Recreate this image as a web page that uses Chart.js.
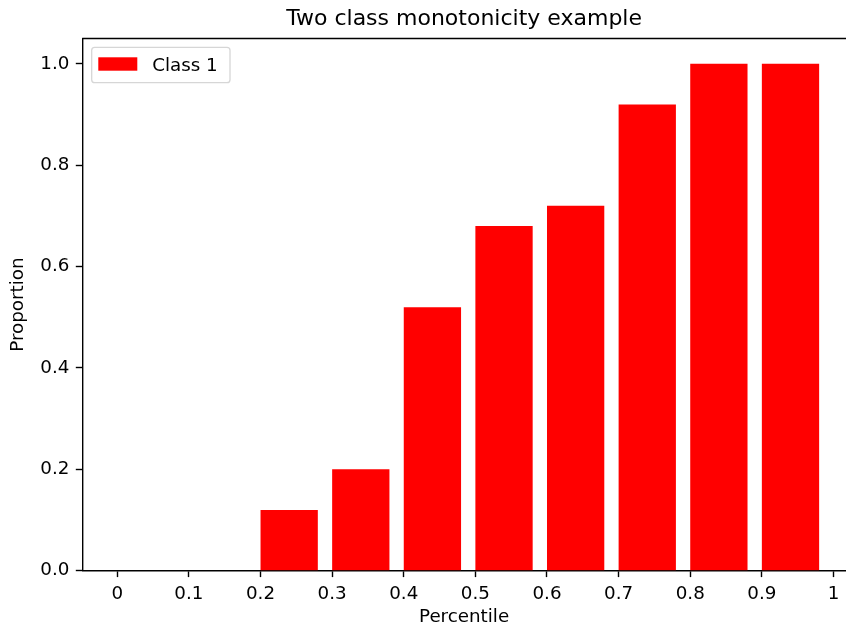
<!DOCTYPE html>
<html>
<head>
<meta charset="utf-8">
<title>Two class monotonicity example</title>
<script src="https://cdn.jsdelivr.net/npm/chart.js@4.4.1/dist/chart.umd.min.js"></script>
<style>
  html, body { margin: 0; padding: 0; background: #ffffff; }
  canvas { display: block; }
</style>
</head>
<body>
<canvas id="chart" width="846" height="630"></canvas>
<script>
// Left edge of each percentile bin and the share of Class 1 in it
const percentiles = [0, 0.1, 0.2, 0.3, 0.4, 0.5, 0.6, 0.7, 0.8, 0.9];
const class1 = [0, 0, 0.12, 0.2, 0.52, 0.68, 0.72, 0.92, 1.0, 1.0];

// Axis ticks
const xTicks = [0, 0.1, 0.2, 0.3, 0.4, 0.5, 0.6, 0.7, 0.8, 0.9, 1.0];
const xTickLabels = ['0', '0.1', '0.2', '0.3', '0.4', '0.5', '0.6', '0.7', '0.8', '0.9', '1'];
const yTicks = [0, 0.2, 0.4, 0.6, 0.8, 1.0];
const yTickLabels = ['0.0', '0.2', '0.4', '0.6', '0.8', '1.0'];

// Bars start at their bin edge and are 0.08 wide
const barWidth = 0.08;

Chart.defaults.font.family = "'DejaVu Sans', sans-serif";
Chart.defaults.font.size = 18.3;
Chart.defaults.color = '#000000';

const AXIS_W = 1.4;

// Top spine of the plotting frame (the frame runs on past the right edge)
const framePlugin = {
  id: 'frame',
  afterDraw(chart) {
    const { ctx, chartArea: a } = chart;
    ctx.save();
    ctx.strokeStyle = '#000000';
    ctx.lineWidth = AXIS_W;
    ctx.beginPath();
    ctx.moveTo(a.left, a.top);
    ctx.lineTo(chart.width, a.top);
    ctx.stroke();
    ctx.restore();
  }
};

// Legend box drawn in the upper-left corner of the plotting area
const innerLegend = {
  id: 'innerLegend',
  afterDraw(chart) {
    const { ctx, chartArea: a } = chart;
    const ds = chart.data.datasets[0];
    const x = a.left + 9.5, y = a.top + 8.8, w = 138.3, h = 35.4, r = 3;
    ctx.save();
    ctx.beginPath();
    ctx.moveTo(x + r, y);
    ctx.lineTo(x + w - r, y);
    ctx.arcTo(x + w, y, x + w, y + r, r);
    ctx.lineTo(x + w, y + h - r);
    ctx.arcTo(x + w, y + h, x + w - r, y + h, r);
    ctx.lineTo(x + r, y + h);
    ctx.arcTo(x, y + h, x, y + h - r, r);
    ctx.lineTo(x, y + r);
    ctx.arcTo(x, y, x + r, y, r);
    ctx.closePath();
    ctx.fillStyle = 'rgba(255,255,255,0.8)';
    ctx.fill();
    ctx.strokeStyle = '#d6d6d6';
    ctx.lineWidth = 1.3;
    ctx.stroke();
    ctx.fillStyle = ds.backgroundColor;
    ctx.fillRect(x + 6.6, y + 10, 39, 13.4);
    ctx.font = "18.3px 'DejaVu Sans', sans-serif";
    ctx.fillStyle = '#000000';
    ctx.textBaseline = 'alphabetic';
    ctx.textAlign = 'left';
    ctx.fillText(ds.label, x + 60.5, y + 23.4);
    ctx.restore();
  }
};

const borderOpts = { display: true, color: '#000000', width: AXIS_W };
const gridOpts = {
  display: true,
  offset: false,
  drawOnChartArea: false,
  drawTicks: true,
  tickLength: 6.4,
  tickWidth: AXIS_W,
  tickColor: '#000000'
};

new Chart(document.getElementById('chart'), {
  type: 'bar',
  data: {
    datasets: [{
      label: 'Class 1',
      data: percentiles.map((p, i) => ({ x: p + barWidth / 2, y: class1[i] })),
      backgroundColor: '#ff0000',
      borderWidth: 0,
      categoryPercentage: 1.0,
      barPercentage: 0.8
    }]
  },
  options: {
    responsive: false,
    devicePixelRatio: 1,
    animation: false,
    layout: { padding: { left: 0, right: 0, top: 0, bottom: 0 } },
    plugins: {
      legend: { display: false },
      tooltip: { enabled: false },
      title: {
        display: true,
        text: 'Two class monotonicity example',
        fullSize: false,
        color: '#000000',
        font: { size: 22, weight: 'normal' },
        padding: { top: 6, bottom: 6.1 }
      }
    },
    scales: {
      x: {
        type: 'linear',
        z: 1,
        offset: false,
        min: -0.049,
        max: 1.0175,
        border: borderOpts,
        grid: gridOpts,
        afterBuildTicks: s => { s.ticks = xTicks.map(v => ({ value: v })); },
        afterFit: s => { s.height = 59.3; },
        ticks: {
          padding: 6,
          maxRotation: 0,
          autoSkip: false,
          callback: (v, i) => xTickLabels[i]
        },
        title: {
          display: true,
          text: 'Percentile',
          color: '#000000',
          padding: { top: 0, bottom: 1.5 }
        }
      },
      y: {
        type: 'linear',
        z: 1,
        min: 0,
        max: 1.05,
        border: borderOpts,
        grid: gridOpts,
        afterBuildTicks: s => { s.ticks = yTicks.map(v => ({ value: v })); },
        afterFit: s => { s.width = 82.2; },
        ticks: {
          padding: 6.4,
          autoSkip: false,
          callback: (v, i) => yTickLabels[i]
        },
        title: {
          display: true,
          text: 'Proportion',
          color: '#000000',
          padding: { top: 7, bottom: 0 }
        }
      }
    }
  },
  plugins: [framePlugin, innerLegend]
});
</script>
</body>
</html>
